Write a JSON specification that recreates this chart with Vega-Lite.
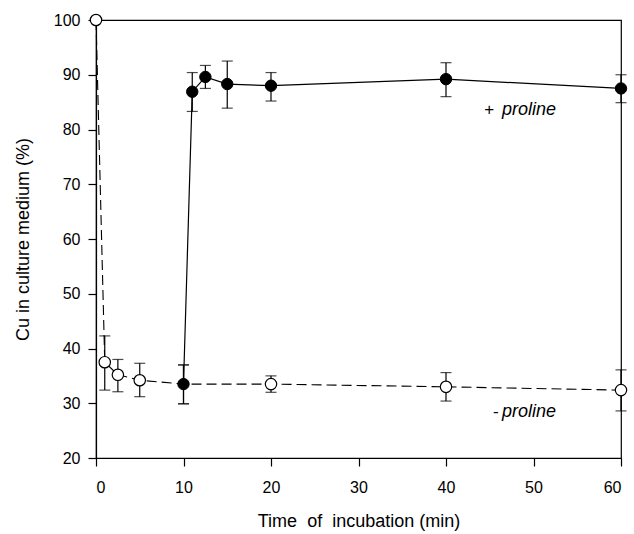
{
  "$schema": "https://vega.github.io/schema/vega-lite/v6.json",
  "autosize": "none",
  "width": 525,
  "height": 438,
  "padding": {"left": 96, "top": 20, "right": 13, "bottom": 76},
  "background": "white",
  "config": {
    "view": {"stroke": "black", "strokeWidth": 1.2},
    "font": "Liberation Sans",
    "axis": {
      "labelFont": "Liberation Sans",
      "titleFont": "Liberation Sans",
      "labelFontSize": 16,
      "titleFontSize": 18,
      "labelColor": "black",
      "titleColor": "black",
      "titleFontWeight": "normal",
      "domainColor": "black",
      "tickColor": "black",
      "grid": false,
      "tickSize": 8,
      "domainWidth": 1.2,
      "tickWidth": 1.2
    }
  },
  "datasets": {
    "points": [
      {"series": "- proline", "t": 0, "y": 100, "lo": 100, "hi": 100},
      {"series": "- proline", "t": 1, "y": 37.5, "lo": 32.4, "hi": 42.3},
      {"series": "- proline", "t": 2.5, "y": 35.2, "lo": 32.1, "hi": 38.0},
      {"series": "- proline", "t": 5, "y": 34.2, "lo": 31.2, "hi": 37.3},
      {"series": "- proline", "t": 10, "y": 33.5, "lo": 29.9, "hi": 37.0},
      {"series": "- proline", "t": 20, "y": 33.5, "lo": 32.0, "hi": 35.0},
      {"series": "- proline", "t": 40, "y": 33.0, "lo": 30.4, "hi": 35.6},
      {"series": "- proline", "t": 60, "y": 32.4, "lo": 28.6, "hi": 36.1},
      {"series": "+ proline", "t": 10, "y": 33.5, "lo": 29.9, "hi": 37.0},
      {"series": "+ proline", "t": 11, "y": 86.9, "lo": 83.3, "hi": 90.4},
      {"series": "+ proline", "t": 12.5, "y": 89.6, "lo": 87.5, "hi": 91.7},
      {"series": "+ proline", "t": 15, "y": 88.3, "lo": 83.9, "hi": 92.5},
      {"series": "+ proline", "t": 20, "y": 88.0, "lo": 85.2, "hi": 90.4},
      {"series": "+ proline", "t": 40, "y": 89.2, "lo": 86.0, "hi": 92.2},
      {"series": "+ proline", "t": 60, "y": 87.5, "lo": 84.9, "hi": 90.0}
    ],
    "labels": [
      {"sign": "+", "word": "proline", "ts": 44.95, "tw": 46.4, "y": 83.6},
      {"sign": "-", "word": "proline", "ts": 45.7, "tw": 46.4, "y": 28.4}
    ]
  },
  "layer": [
    {
      "data": {"name": "points"},
      "transform": [{"filter": "datum.lo < datum.hi"}],
      "mark": {"type": "rule", "color": "black", "strokeWidth": 1.2},
      "encoding": {
        "x": {"field": "t", "type": "quantitative", "scale": {"domain": [0, 60], "nice": false},
          "axis": {"title": "Time\u00a0\u00a0of\u00a0\u00a0incubation (min)", "values": [0, 10, 20, 30, 40, 50, 60], "labelPadding": 13, "titlePadding": 17}},
        "y": {"field": "lo", "type": "quantitative", "scale": {"domain": [20, 100], "nice": false},
          "axis": {"title": "Cu in culture medium (%)", "values": [20, 30, 40, 50, 60, 70, 80, 90, 100], "labelPadding": 8, "titlePadding": 21}},
        "y2": {"field": "hi"}
      }
    },
    {
      "data": {"name": "points"},
      "transform": [{"filter": "datum.lo < datum.hi"}],
      "mark": {"type": "tick", "orient": "horizontal", "color": "black", "size": 11, "thickness": 1.2},
      "encoding": {
        "x": {"field": "t", "type": "quantitative"},
        "y": {"field": "lo", "type": "quantitative"}
      }
    },
    {
      "data": {"name": "points"},
      "transform": [{"filter": "datum.lo < datum.hi"}],
      "mark": {"type": "tick", "orient": "horizontal", "color": "black", "size": 11, "thickness": 1.2},
      "encoding": {
        "x": {"field": "t", "type": "quantitative"},
        "y": {"field": "hi", "type": "quantitative"}
      }
    },
    {
      "data": {"name": "points"},
      "transform": [{"filter": "datum.series == '- proline'"}],
      "mark": {"type": "line", "color": "black", "strokeWidth": 1.1, "strokeDash": [10, 5]},
      "encoding": {
        "x": {"field": "t", "type": "quantitative"},
        "y": {"field": "y", "type": "quantitative"}
      }
    },
    {
      "data": {"name": "points"},
      "transform": [{"filter": "datum.series == '+ proline'"}],
      "mark": {"type": "line", "color": "black", "strokeWidth": 1.2},
      "encoding": {
        "x": {"field": "t", "type": "quantitative"},
        "y": {"field": "y", "type": "quantitative"}
      }
    },
    {
      "data": {"name": "points"},
      "transform": [{"filter": "datum.series == '- proline' && datum.t != 10"}],
      "mark": {"type": "point", "shape": "circle", "filled": true, "fill": "white", "stroke": "black", "strokeWidth": 1.2, "size": 130, "opacity": 1},
      "encoding": {
        "x": {"field": "t", "type": "quantitative"},
        "y": {"field": "y", "type": "quantitative"}
      }
    },
    {
      "data": {"name": "points"},
      "transform": [{"filter": "datum.series == '+ proline'"}],
      "mark": {"type": "point", "shape": "circle", "filled": true, "fill": "black", "stroke": "black", "strokeWidth": 1, "size": 130, "opacity": 1},
      "encoding": {
        "x": {"field": "t", "type": "quantitative"},
        "y": {"field": "y", "type": "quantitative"}
      }
    },
    {
      "data": {"name": "labels"},
      "mark": {"type": "text", "font": "Liberation Sans", "fontSize": 17, "color": "black", "align": "center", "baseline": "middle"},
      "encoding": {
        "x": {"field": "ts", "type": "quantitative"},
        "y": {"field": "y", "type": "quantitative"},
        "text": {"field": "sign"}
      }
    },
    {
      "data": {"name": "labels"},
      "mark": {"type": "text", "font": "Liberation Sans", "fontSize": 18, "fontStyle": "italic", "color": "black", "align": "left", "baseline": "middle"},
      "encoding": {
        "x": {"field": "tw", "type": "quantitative"},
        "y": {"field": "y", "type": "quantitative"},
        "text": {"field": "word"}
      }
    }
  ]
}
